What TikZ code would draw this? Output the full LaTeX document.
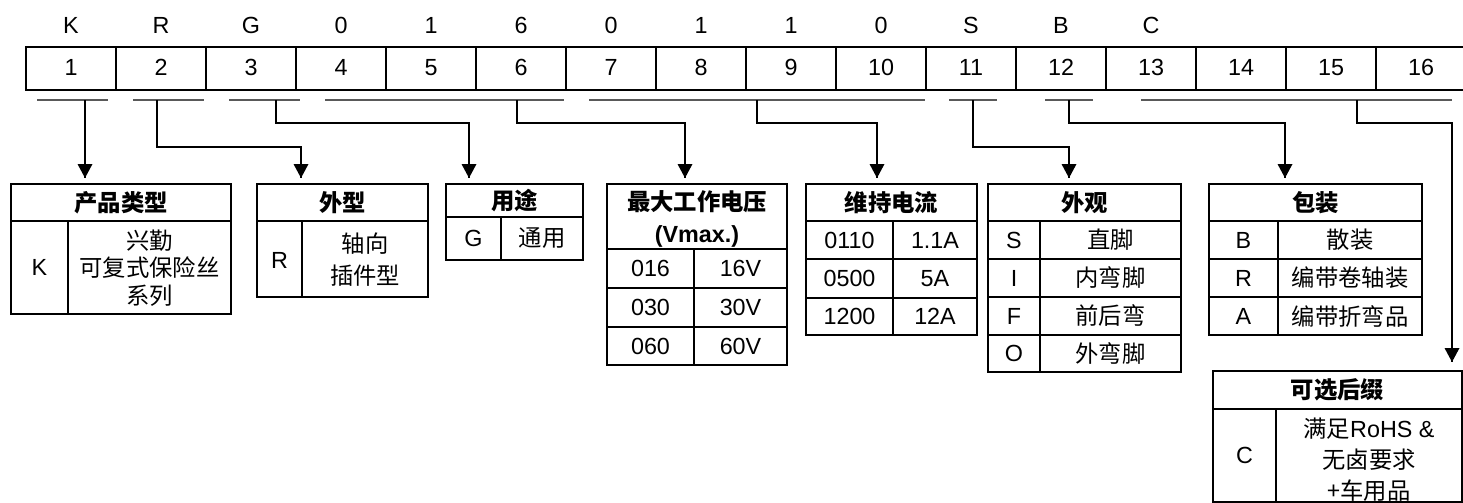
\documentclass[tikz,border=0pt]{standalone}
\usepackage{fontspec}
\setmainfont{Liberation Sans}
\newfontfamily\cjk{Noto Sans CJK SC}
\newcommand{\lat}{\fontsize{17.5}{21}\selectfont}
\newcommand{\zh}{\cjk\fontsize{17.5}{21}\selectfont}

\begin{document}
\begin{tikzpicture}[x=0.75pt,y=-0.75pt]
        \tikzstyle{every node}+=[inner sep=0pt]
        \tikzstyle{box}=[black,line width=1.5pt]
        \tikzstyle{conn}=[black,line width=1.2pt]
        \tikzstyle{bar}=[black!65,line width=1.7pt]
        \tikzstyle{lat}=[font=\lat]
        \tikzstyle{zh}=[font=\zh]
        \tikzstyle{hd}=[font=\zh\bfseries]
        \useasboundingbox (0,0) rectangle (1463,503);
        % code letters
        \draw (71,25) node [lat] (l1) {K};
        \draw (161,25) node [lat] (l2) {R};
        \draw (251,25) node [lat] (l3) {G};
        \draw (341,25) node [lat] (l4) {0};
        \draw (431,25) node [lat] (l5) {1};
        \draw (521,25) node [lat] (l6) {6};
        \draw (611,25) node [lat] (l7) {0};
        \draw (701,25) node [lat] (l8) {1};
        \draw (791,25) node [lat] (l9) {1};
        \draw (881,25) node [lat] (l10) {0};
        \draw (971,25) node [lat] (l11) {S};
        \draw (1061,25) node [lat] (l12) {B};
        \draw (1151,25) node [lat] (l13) {C};
        % position row
        \draw [box] (26,47) rectangle (1466,90);
        \draw [box] (116,47) -- (116,90) (206,47) -- (206,90) (296,47) -- (296,90)
            (386,47) -- (386,90) (476,47) -- (476,90) (566,47) -- (566,90)
            (656,47) -- (656,90) (746,47) -- (746,90) (836,47) -- (836,90)
            (926,47) -- (926,90) (1016,47) -- (1016,90) (1106,47) -- (1106,90)
            (1196,47) -- (1196,90) (1286,47) -- (1286,90) (1376,47) -- (1376,90);
        \draw (71,67.5) node [lat] (p1) {1};
        \draw (161,67.5) node [lat] (p2) {2};
        \draw (251,67.5) node [lat] (p3) {3};
        \draw (341,67.5) node [lat] (p4) {4};
        \draw (431,67.5) node [lat] (p5) {5};
        \draw (521,67.5) node [lat] (p6) {6};
        \draw (611,67.5) node [lat] (p7) {7};
        \draw (701,67.5) node [lat] (p8) {8};
        \draw (791,67.5) node [lat] (p9) {9};
        \draw (881,67.5) node [lat] (p10) {10};
        \draw (971,67.5) node [lat] (p11) {11};
        \draw (1061,67.5) node [lat] (p12) {12};
        \draw (1151,67.5) node [lat] (p13) {13};
        \draw (1241,67.5) node [lat] (p14) {14};
        \draw (1331,67.5) node [lat] (p15) {15};
        \draw (1421,67.5) node [lat] (p16) {16};
        % groups
        \draw [bar] (37,100) -- (108,100);
        \draw [bar] (133,100) -- (204,100);
        \draw [bar] (229,100) -- (300,100);
        \draw [bar] (325,100) -- (564,100);
        \draw [bar] (589,100) -- (925,100);
        \draw [bar] (949,100) -- (997,100);
        \draw [bar] (1045,100) -- (1093,100);
        \draw [bar] (1141,100) -- (1452,100);
        \coordinate (b1) at (85,100);
        \coordinate (b2) at (157,100);
        \coordinate (b3) at (276,100);
        \coordinate (b4) at (517,100);
        \coordinate (b5) at (757,100);
        \coordinate (b6) at (973,100);
        \coordinate (b7) at (1069,100);
        \coordinate (b8) at (1357,100);
        \coordinate (a1) at (85,178);
        \coordinate (a2) at (301,178);
        \coordinate (a3) at (469,178);
        \coordinate (a4) at (685,178);
        \coordinate (a5) at (877,178);
        \coordinate (a6) at (1069,178);
        \coordinate (a7) at (1285,178);
        \coordinate (a8) at (1452,362);
        \draw [conn] (b1) -- (a1);
        \fill [black] (a1) -- ++(-7.5,-14) -- ++(15,0) -- cycle;
        \draw [conn] (b2) -- ++(0,47) -| (a2);
        \fill [black] (a2) -- ++(-7.5,-14) -- ++(15,0) -- cycle;
        \draw [conn] (b3) -- ++(0,23) -| (a3);
        \fill [black] (a3) -- ++(-7.5,-14) -- ++(15,0) -- cycle;
        \draw [conn] (b4) -- ++(0,23) -| (a4);
        \fill [black] (a4) -- ++(-7.5,-14) -- ++(15,0) -- cycle;
        \draw [conn] (b5) -- ++(0,23) -| (a5);
        \fill [black] (a5) -- ++(-7.5,-14) -- ++(15,0) -- cycle;
        \draw [conn] (b6) -- ++(0,47) -| (a6);
        \fill [black] (a6) -- ++(-7.5,-14) -- ++(15,0) -- cycle;
        \draw [conn] (b7) -- ++(0,23) -| (a7);
        \fill [black] (a7) -- ++(-7.5,-14) -- ++(15,0) -- cycle;
        \draw [conn] (b8) -- ++(0,23) -| (a8);
        \fill [black] (a8) -- ++(-7.5,-14) -- ++(15,0) -- cycle;
        % product type
        \draw [box] (11,184) rectangle (231,314);
        \draw [box] (11,221) -- (231,221) (68,221) -- (68,314);
        \draw (121,202.5) node [hd] (t1h) {产品类型};
        \draw (39.5,267.5) node [lat] (t1k) {K};
        \draw (149.5,268) node [align=center,font=\cjk\fontsize{17.5}{20.5}\selectfont] (t1v) {兴勤\\可复式保险丝\\系列};
        % shape
        \draw [box] (257,184) rectangle (428,297);
        \draw [box] (257,221) -- (428,221) (302,221) -- (302,297);
        \draw (342.5,202.5) node [hd] (t2h) {外型};
        \draw (279.5,260) node [lat] (t2k) {R};
        \draw (365,260) node [align=center,font=\cjk\fontsize{17.5}{24}\selectfont] (t2v) {轴向\\插件型};
        % use
        \draw [box] (446,184) rectangle (583,260);
        \draw [box] (446,217) -- (583,217) (501,217) -- (501,260);
        \draw (514.5,200.5) node [hd] (t3h) {用途};
        \draw (473.5,238.5) node [lat] (t3k) {G};
        \draw (542,238.5) node [zh] (t3v) {通用};
        % max voltage
        \draw [box] (607,184) rectangle (787,365);
        \draw [box] (607,249) -- (787,249) (607,288) -- (787,288) (607,327) -- (787,327)
            (694,249) -- (694,365);
        \draw (697,202) node [hd] (t4h) {最大工作电压};
        \draw (697,236) node [font=\lat\bfseries] (t4m) {(Vmax.)};
        \draw (650.5,268.5) node [lat] (t4k1) {016};
        \draw (740.5,268.5) node [lat] (t4v1) {16V};
        \draw (650.5,307.5) node [lat] (t4k2) {030};
        \draw (740.5,307.5) node [lat] (t4v2) {30V};
        \draw (650.5,346) node [lat] (t4k3) {060};
        \draw (740.5,346) node [lat] (t4v3) {60V};
        % holding current
        \draw [box] (806,184) rectangle (977,335);
        \draw [box] (806,221) -- (977,221) (806,259) -- (977,259) (806,298) -- (977,298)
            (893,221) -- (893,335);
        \draw (891.5,202.5) node [hd] (t5h) {维持电流};
        \draw (849.5,240) node [lat] (t5k1) {0110};
        \draw (935,240) node [lat] (t5v1) {1.1A};
        \draw (849.5,278.5) node [lat] (t5k2) {0500};
        \draw (935,278.5) node [lat] (t5v2) {5A};
        \draw (849.5,316.5) node [lat] (t5k3) {1200};
        \draw (935,316.5) node [lat] (t5v3) {12A};
        % appearance
        \draw [box] (988,184) rectangle (1181,372);
        \draw [box] (988,221) -- (1181,221) (988,259) -- (1181,259) (988,297) -- (1181,297)
            (988,335) -- (1181,335) (1040,221) -- (1040,372);
        \draw (1084.5,202.5) node [hd] (t6h) {外观};
        \draw (1014,240) node [lat] (t6k1) {S};
        \draw (1110.5,240) node [zh] (t6v1) {直脚};
        \draw (1014,278) node [lat] (t6k2) {I};
        \draw (1110.5,278) node [zh] (t6v2) {内弯脚};
        \draw (1014,316) node [lat] (t6k3) {F};
        \draw (1110.5,316) node [zh] (t6v3) {前后弯};
        \draw (1014,353.5) node [lat] (t6k4) {O};
        \draw (1110.5,353.5) node [zh] (t6v4) {外弯脚};
        % packing
        \draw [box] (1209,184) rectangle (1422,335);
        \draw [box] (1209,221) -- (1422,221) (1209,259) -- (1422,259) (1209,297) -- (1422,297)
            (1278,221) -- (1278,335);
        \draw (1315.5,202.5) node [hd] (t7h) {包装};
        \draw (1243.5,240) node [lat] (t7k1) {B};
        \draw (1350,240) node [zh] (t7v1) {散装};
        \draw (1243.5,278) node [lat] (t7k2) {R};
        \draw (1350,278) node [zh] (t7v2) {编带卷轴装};
        \draw (1243.5,316) node [lat] (t7k3) {A};
        \draw (1350,316) node [zh] (t7v3) {编带折弯品};
        % optional suffix
        \draw [box] (1213,371) rectangle (1462,501.5);
        \draw [box] (1213,409) -- (1462,409) (1276,409) -- (1276,501.5);
        \draw (1337.5,390) node [hd] (t8h) {可选后缀};
        \draw (1244.5,455) node [lat] (t8k) {C};
        \draw (1369,460) node [align=center,font=\cjk\fontsize{17.5}{23.25}\selectfont] (t8v) {满足{\rmfamily\lat RoHS \&}\\无卤要求\\+车用品};
\end{tikzpicture}
\end{document}
